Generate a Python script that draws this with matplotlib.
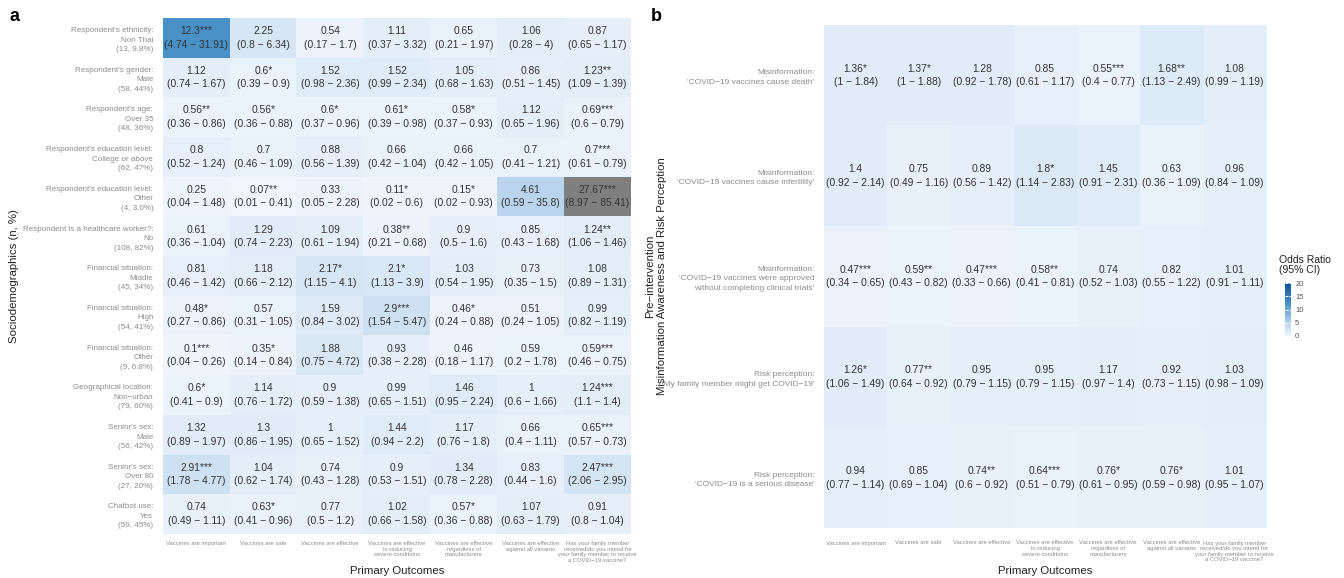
import matplotlib
matplotlib.use("Agg")
import matplotlib.pyplot as plt
import numpy as np
from matplotlib.colors import LinearSegmentedColormap, Normalize

plt.rcParams['font.family'] = ['Liberation Sans', 'DejaVu Sans']

outcomes = ["Vaccines are important", "Vaccines are safe", "Vaccines are effective",
            "Vaccines are effective\nin reducing\nsevere conditions",
            "Vaccines are effective\nregardless of\nmanufacturers",
            "Vaccines are effective\nagainst all variants",
            "Has your family member\nreceived/do you intend for\nyour family member to receive\na COVID\u221219 vaccine?"]

# panel a: sociodemographics
rows_a = ["Respondent's ethnicity:\nNon Thai\n(13, 9.8%)",
          "Respondent's gender:\nMale\n(58, 44%)",
          "Respondent's age:\nOver 35\n(48, 36%)",
          "Respondent's education level:\nCollege or above\n(62, 47%)",
          "Respondent's education level:\nOther\n(4, 3.0%)",
          "Respondent is a healthcare worker?:\nNo\n(108, 82%)",
          "Financial situation:\nMiddle\n(45, 34%)",
          "Financial situation:\nHigh\n(54, 41%)",
          "Financial situation:\nOther\n(9, 6.8%)",
          "Geographical location:\nNon\u2212urban\n(79, 60%)",
          "Senior's sex:\nMale\n(56, 42%)",
          "Senior's sex:\nOver 80\n(27, 20%)",
          "Chatbot use:\nYes\n(59, 45%)"]
or_a = [[12.3, 2.25, 0.54, 1.11, 0.65, 1.06, 0.87],
        [1.12, 0.6, 1.52, 1.52, 1.05, 0.86, 1.23],
        [0.56, 0.56, 0.6, 0.61, 0.58, 1.12, 0.69],
        [0.8, 0.7, 0.88, 0.66, 0.66, 0.7, 0.7],
        [0.25, 0.07, 0.33, 0.11, 0.15, 4.61, 27.67],
        [0.61, 1.29, 1.09, 0.38, 0.9, 0.85, 1.24],
        [0.81, 1.18, 2.17, 2.1, 1.03, 0.73, 1.08],
        [0.48, 0.57, 1.59, 2.9, 0.46, 0.51, 0.99],
        [0.1, 0.35, 1.88, 0.93, 0.46, 0.59, 0.59],
        [0.6, 1.14, 0.9, 0.99, 1.46, 1, 1.24],
        [1.32, 1.3, 1, 1.44, 1.17, 0.66, 0.65],
        [2.91, 1.04, 0.74, 0.9, 1.34, 0.83, 2.47],
        [0.74, 0.63, 0.77, 1.02, 0.57, 1.07, 0.91]]
lo_a = [[4.74, 0.8, 0.17, 0.37, 0.21, 0.28, 0.65],
        [0.74, 0.39, 0.98, 0.99, 0.68, 0.51, 1.09],
        [0.36, 0.36, 0.37, 0.39, 0.37, 0.65, 0.6],
        [0.52, 0.46, 0.56, 0.42, 0.42, 0.41, 0.61],
        [0.04, 0.01, 0.05, 0.02, 0.02, 0.59, 8.97],
        [0.36, 0.74, 0.61, 0.21, 0.5, 0.43, 1.06],
        [0.46, 0.66, 1.15, 1.13, 0.54, 0.35, 0.89],
        [0.27, 0.31, 0.84, 1.54, 0.24, 0.24, 0.82],
        [0.04, 0.14, 0.75, 0.38, 0.18, 0.2, 0.46],
        [0.41, 0.76, 0.59, 0.65, 0.95, 0.6, 1.1],
        [0.89, 0.86, 0.65, 0.94, 0.76, 0.4, 0.57],
        [1.78, 0.62, 0.43, 0.53, 0.78, 0.44, 2.06],
        [0.49, 0.41, 0.5, 0.66, 0.36, 0.63, 0.8]]
hi_a = [[31.91, 6.34, 1.7, 3.32, 1.97, 4, 1.17],
        [1.67, 0.9, 2.36, 2.34, 1.63, 1.45, 1.39],
        [0.86, 0.88, 0.96, 0.98, 0.93, 1.96, 0.79],
        [1.24, 1.09, 1.39, 1.04, 1.05, 1.21, 0.79],
        [1.48, 0.41, 2.28, 0.6, 0.93, 35.8, 85.41],
        [1.04, 2.23, 1.94, 0.68, 1.6, 1.68, 1.46],
        [1.42, 2.12, 4.1, 3.9, 1.95, 1.5, 1.31],
        [0.86, 1.05, 3.02, 5.47, 0.88, 1.05, 1.19],
        [0.26, 0.84, 4.72, 2.28, 1.17, 1.78, 0.75],
        [0.9, 1.72, 1.38, 1.51, 2.24, 1.66, 1.4],
        [1.97, 1.95, 1.52, 2.2, 1.8, 1.11, 0.73],
        [4.77, 1.74, 1.28, 1.51, 2.28, 1.6, 2.95],
        [1.11, 0.96, 1.2, 1.58, 0.88, 1.79, 1.04]]
sig_a = [["***", "", "", "", "", "", ""],
         ["", "*", "", "", "", "", "**"],
         ["**", "*", "*", "*", "*", "", "***"],
         ["", "", "", "", "", "", "***"],
         ["", "**", "", "*", "*", "", "***"],
         ["", "", "", "**", "", "", "**"],
         ["", "", "*", "*", "", "", ""],
         ["*", "", "", "***", "*", "", ""],
         ["***", "*", "", "", "", "", "***"],
         ["*", "", "", "", "", "", "***"],
         ["", "", "", "", "", "", "***"],
         ["***", "", "", "", "", "", "***"],
         ["", "*", "", "", "*", "", ""]]

# panel b: misinformation awareness and risk perception
rows_b = ["Misinformation:\n'COVID\u221219 vaccines cause death'",
          "Misinformation:\n'COVID\u221219 vaccines cause infertility'",
          "Misinformation:\n'COVID\u221219 vaccines were approved\nwithout completing clinical trials'",
          "Risk perception:\n'My family member might get COVID\u221219'",
          "Risk perception:\n'COVID\u221219 is a serious disease'"]
or_b = [[1.36, 1.37, 1.28, 0.85, 0.55, 1.68, 1.08],
        [1.4, 0.75, 0.89, 1.8, 1.45, 0.63, 0.96],
        [0.47, 0.59, 0.47, 0.58, 0.74, 0.82, 1.01],
        [1.26, 0.77, 0.95, 0.95, 1.17, 0.92, 1.03],
        [0.94, 0.85, 0.74, 0.64, 0.76, 0.76, 1.01]]
lo_b = [[1, 1, 0.92, 0.61, 0.4, 1.13, 0.99],
        [0.92, 0.49, 0.56, 1.14, 0.91, 0.36, 0.84],
        [0.34, 0.43, 0.33, 0.41, 0.52, 0.55, 0.91],
        [1.06, 0.64, 0.79, 0.79, 0.97, 0.73, 0.98],
        [0.77, 0.69, 0.6, 0.51, 0.61, 0.59, 0.95]]
hi_b = [[1.84, 1.88, 1.78, 1.17, 0.77, 2.49, 1.19],
        [2.14, 1.16, 1.42, 2.83, 2.31, 1.09, 1.09],
        [0.65, 0.82, 0.66, 0.81, 1.03, 1.22, 1.11],
        [1.49, 0.92, 1.15, 1.15, 1.4, 1.15, 1.09],
        [1.14, 1.04, 0.92, 0.79, 0.95, 0.98, 1.07]]
sig_b = [["*", "*", "", "", "***", "**", ""],
         ["", "", "", "*", "", "", ""],
         ["***", "**", "***", "**", "", "", ""],
         ["*", "**", "", "", "", "", ""],
         ["", "", "**", "***", "*", "*", ""]]

W, H = 1344, 578
def box(l, t, r, b):
    return [l / W, 1 - b / H, (r - l) / W, (b - t) / H]

cmap = LinearSegmentedColormap.from_list(
    "or", [(0, "#f1f6fd"), (0.23, "#bad5ed"), (0.615, "#4a91c8"), (1, "#08519c")])
cmap.set_over("#7f7f7f")
norm = Normalize(vmin=0, vmax=20)

fig = plt.figure(figsize=(W / 100, H / 100), dpi=100)

def heat(ax, orv, lo, hi, sig, rows, fs_row, xpad, ylab_pad):
    orv = np.array(orv)
    im = ax.imshow(orv, cmap=cmap, norm=norm, aspect="auto", interpolation="nearest")
    for i in range(orv.shape[0]):
        for j in range(orv.shape[1]):
            s = f"{orv[i, j]:g}{sig[i][j]}\n({lo[i][j]:g} \u2212 {hi[i][j]:g})"
            ax.text(j, i, s, ha="center", va="center", fontsize=7.4,
                    color="#333333", linespacing=1.45)
    ax.set_xticks(range(len(outcomes)))
    ax.set_xticklabels(outcomes, fontsize=4.2, color="#8c8c8c", va="top")
    ax.set_yticks(range(len(rows)))
    ax.set_yticklabels(rows, fontsize=fs_row, color="#8c8c8c", ha="right")
    for t in ax.get_xticklabels():
        t.set_linespacing(1.15)
    for t in ax.get_yticklabels():
        t.set_linespacing(1.5)
    ax.tick_params(length=0)
    ax.tick_params(axis="x", pad=xpad)
    ax.tick_params(axis="y", pad=ylab_pad)
    for sp in ax.spines.values():
        sp.set_visible(False)
    return im

ax_a = fig.add_axes(box(163, 18, 631, 534))
im = heat(ax_a, or_a, lo_a, hi_a, sig_a, rows_a, 5.8, 5, 7)
ax_a.set_xlabel("Primary Outcomes", fontsize=8.2, color="#222222")
ax_a.xaxis.set_label_coords(0.5, -(566 - 534) / 516)
ax_a.set_ylabel("Sociodemographics (n, %)", fontsize=8.2, color="#222222")
ax_a.yaxis.set_label_coords((19 - 163) / 468, 0.5)

ax_b = fig.add_axes(box(824, 25, 1266, 528))
heat(ax_b, or_b, lo_b, hi_b, sig_b, rows_b, 6.0, 9, 7)
ax_b.set_xlabel("Primary Outcomes", fontsize=8.2, color="#222222")
ax_b.xaxis.set_label_coords(0.5, -(566 - 528) / 503)
ax_b.set_ylabel("Pre\u2212intervention\nMisinformation Awareness and Risk Perception",
                fontsize=8.2, color="#222222", linespacing=1.25)
ax_b.yaxis.set_label_coords((667 - 824) / 442, 0.5)

fig.text(9 / W, 1 - 8 / H, "a", fontsize=13, fontweight="bold", ha="left", va="top")
fig.text(651 / W, 1 - 8 / H, "b", fontsize=13, fontweight="bold", ha="left", va="top")

cax = fig.add_axes(box(1285, 283, 1291, 336))
cb = fig.colorbar(im, cax=cax, ticks=[0, 5, 10, 15, 20])
cb.outline.set_visible(False)
cax.yaxis.set_ticks_position("both")
cax.tick_params(direction="in", colors="white", length=1.8, width=0.7,
                labelsize=5.4, labelcolor="#555555", pad=3)
fig.text(1279 / W, 1 - 255 / H, "Odds Ratio\n(95% CI)", fontsize=7.5,
         color="#222222", ha="left", va="top", linespacing=0.95)

fig.savefig("out.png", dpi=100)
